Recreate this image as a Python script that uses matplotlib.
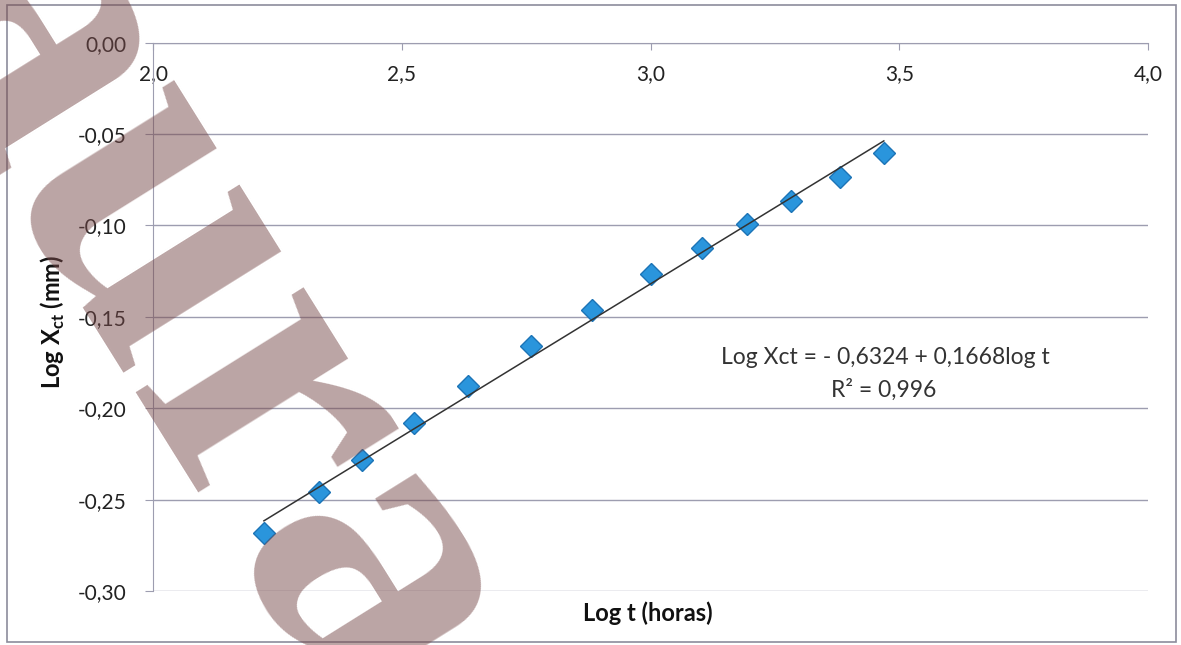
import matplotlib
matplotlib.use("Agg")
import matplotlib.pyplot as plt
from matplotlib.patches import Rectangle
import numpy as np

plt.rcParams['font.family'] = ['Lato', 'DejaVu Sans']

# log t (horas) e log Xct (mm)
log_t = [2.223, 2.334, 2.421, 2.525, 2.634, 2.760, 2.883,
         3.000, 3.103, 3.193, 3.282, 3.381, 3.469]
log_xct = [-0.2684, -0.2460, -0.2283, -0.2083, -0.1879, -0.1660, -0.1463,
           -0.1268, -0.1122, -0.0992, -0.0867, -0.0737, -0.0606]

# linha de tendência (Excel)
intercept = -0.6324
slope = 0.1668
r2 = 0.996

x_ticks = [2.0, 2.5, 3.0, 3.5, 4.0]
y_ticks = [0.00, -0.05, -0.10, -0.15, -0.20, -0.25, -0.30]

W, H = 1181, 645
fig = plt.figure(figsize=(W / 100, H / 100), dpi=100)
ax = fig.add_axes([153 / W, 1 - 591 / H, (1148 - 153) / W, (591 - 42.6) / H])

grid_c = '#9d9db0'
ax.set_xlim(2.0, 4.0)
ax.set_ylim(-0.30, 0.00)
ax.set_xticks(x_ticks)
ax.set_yticks(y_ticks)
ax.set_xticklabels([f"{v:.1f}".replace('.', ',') for v in x_ticks])
ax.set_yticklabels([f"{v:.2f}".replace('.', ',') for v in y_ticks])

for s in ['right', 'bottom']:
    ax.spines[s].set_visible(False)
ax.spines['top'].set_color(grid_c)
ax.spines['left'].set_color(grid_c)
ax.yaxis.grid(True, color=grid_c, lw=1.0)
ax.set_axisbelow(True)

ax.tick_params(axis='x', top=True, bottom=False, labeltop=True, labelbottom=False,
               direction='in', length=5, color=grid_c, pad=-30, labelsize=15,
               labelcolor='#222222')
ax.tick_params(axis='y', direction='out', length=6, color=grid_c, pad=13,
               labelsize=15, labelcolor='#222222')

# pontos experimentais
ax.plot(log_t, log_xct, 'D', ms=11, mfc='#2a95dc', mec='#1c74b6', mew=1.0, zorder=3)

# reta ajustada sobre o intervalo dos dados
xl = np.array([min(log_t), max(log_t)])
ax.plot(xl, intercept + slope * xl, color='#333333', lw=1.1, zorder=4)

eq = f"Log Xct = - {abs(intercept):.4f} + {slope:.4f}log t".replace('.', ',')
fig.text(885 / W, 1 - 358 / H, eq, ha='center', va='center', fontsize=16.5, color='#333333')
fig.text(884 / W, 1 - 390 / H, f"R² = {r2:.3f}".replace('.', ','), ha='center',
         va='center', fontsize=16.5, color='#333333')

fig.text(53 / W, 1 - 322 / H, r"Log X$_\mathregular{ct}$ (mm)", rotation=90,
         ha='center', va='center', fontsize=17, fontweight='bold', color='#111111')
fig.text(648 / W, 1 - 613 / H, "Log t (horas)", ha='center', va='center',
         fontsize=17, fontweight='bold', color='#111111')

# moldura da área do gráfico
fig.patches.append(Rectangle((7 / W, 1 - 642 / H), (1176 - 7) / W, (642 - 5) / H,
                             transform=fig.transFigure, fill=False,
                             ec='#8c8c9c', lw=1.2))

# marca d'água
fig.text(135 / W, 1 - (-150) / H, "aura", rotation=-58, rotation_mode='anchor',
         ha='left', va='top', fontsize=310, family='Liberation Serif',
         fontweight='bold', color=(0.47, 0.29, 0.29), alpha=0.5, zorder=10)

fig.savefig("out.png", dpi=100)
